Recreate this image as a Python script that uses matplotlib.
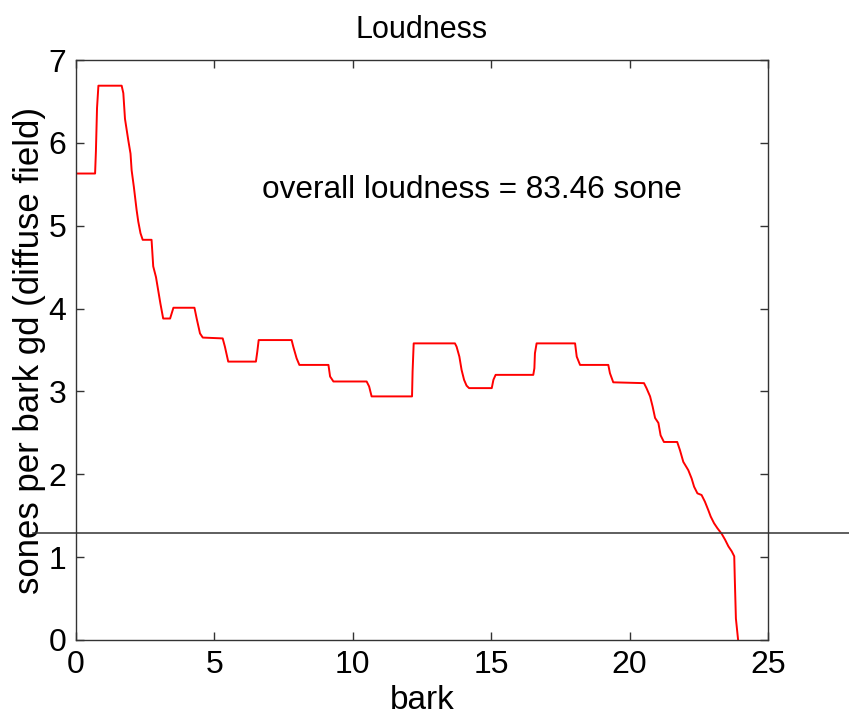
import matplotlib
matplotlib.use('Agg')
import matplotlib.pyplot as plt
from matplotlib.transforms import blended_transform_factory

plt.rcParams['font.family'] = ['Liberation Sans', 'DejaVu Sans']

# specific loudness pattern, breakpoints along the bark axis
bark = [0.0, 0.69, 0.72, 0.76, 0.81, 1.65, 1.71, 1.77, 1.89, 1.97, 2.01, 2.09,
        2.19, 2.25, 2.33, 2.41, 2.73, 2.79, 2.89, 2.97, 3.05, 3.15, 3.40, 3.52,
        4.28, 4.36, 4.48, 4.58, 5.30, 5.38, 5.50, 6.50, 6.55, 6.60, 7.79, 7.85,
        7.97, 8.07, 9.12, 9.18, 9.30, 10.50, 10.59, 10.68, 12.14, 12.16, 12.20,
        13.69, 13.75, 13.85, 13.93, 14.02, 14.11, 14.20, 15.02, 15.08, 15.16,
        16.52, 16.56, 16.58, 16.64, 18.03, 18.09, 18.21, 19.23, 19.29, 19.41,
        20.52, 20.61, 20.74, 20.83, 20.92, 21.04, 21.12, 21.24, 21.72, 21.82,
        21.94, 22.12, 22.24, 22.33, 22.45, 22.60, 22.72, 22.84, 22.93, 23.05,
        23.17, 23.33, 23.45, 23.57, 23.69, 23.78, 23.80, 23.84, 23.92]
sones = [5.63, 5.63, 5.90, 6.42, 6.69, 6.69, 6.60, 6.29, 6.03, 5.87, 5.67, 5.47,
         5.19, 5.05, 4.91, 4.83, 4.83, 4.51, 4.38, 4.22, 4.06, 3.88, 3.88, 4.01,
         4.01, 3.88, 3.70, 3.65, 3.64, 3.54, 3.36, 3.36, 3.48, 3.62, 3.62, 3.54,
         3.40, 3.32, 3.32, 3.18, 3.12, 3.12, 3.06, 2.94, 2.94, 3.24, 3.58,
         3.58, 3.54, 3.42, 3.26, 3.14, 3.07, 3.04, 3.04, 3.14, 3.20,
         3.20, 3.28, 3.46, 3.58, 3.58, 3.42, 3.32, 3.32, 3.22, 3.11,
         3.10, 3.04, 2.94, 2.82, 2.68, 2.62, 2.47, 2.39, 2.39, 2.29,
         2.15, 2.05, 1.95, 1.85, 1.77, 1.75, 1.67, 1.57, 1.49, 1.41,
         1.35, 1.28, 1.21, 1.13, 1.07, 1.01, 0.74, 0.26, 0.0]

threshold = 1.288
total_loudness = 83.46

fig = plt.figure(figsize=(8.49, 7.23), dpi=100)
ax = fig.add_axes([0.0895, 0.1148, 0.8151, 0.8022])

ax.plot(bark, sones, color='red', linewidth=1.4)

# reference level drawn across the whole figure width
trans = blended_transform_factory(fig.transFigure, ax.transData)
ax.plot([0.039, 1.0], [threshold, threshold], color='#333333', linewidth=1.1,
        transform=trans, clip_on=False)

ax.text(6.72, 5.43, 'overall loudness = %.2f sone' % total_loudness,
        fontsize=22.7, va='center', ha='left')

ax.set_xlim(0, 25)
ax.set_ylim(0, 7)
ax.set_xticks(range(0, 26, 5))
ax.set_yticks(range(0, 8))
ax.tick_params(direction='in', top=True, right=True, length=6, width=1,
               labelsize=23, pad=7, color='#333333')
for s in ax.spines.values():
    s.set_color('#333333')
    s.set_linewidth(1.0)

ax.set_title('Loudness', fontsize=22, pad=16)
ax.set_xlabel('bark', fontsize=24, labelpad=4)
ax.set_ylabel('sones per bark gd (diffuse field)', fontsize=25, labelpad=2)

fig.savefig('out.png', dpi=100, facecolor='white')
